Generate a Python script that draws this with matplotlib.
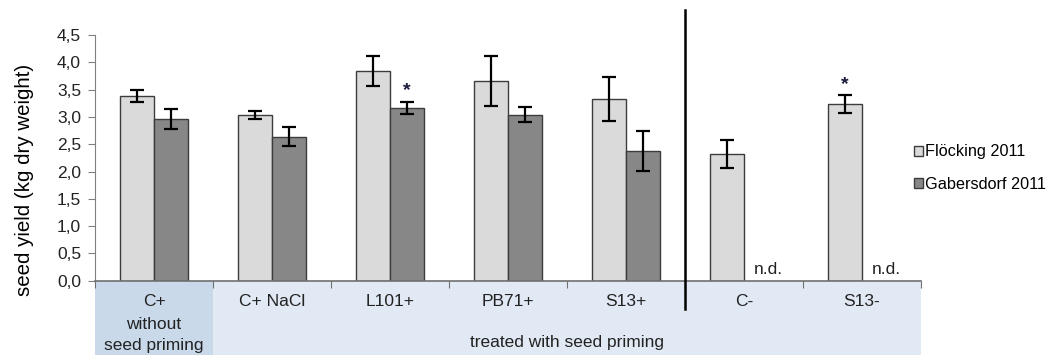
import matplotlib
matplotlib.use("Agg")
import matplotlib.pyplot as plt
import matplotlib.transforms as mtransforms
from matplotlib.patches import Rectangle, Patch
from matplotlib.ticker import FuncFormatter
import numpy as np

plt.rcParams['font.family'] = ['Liberation Sans', 'DejaVu Sans']

categories = ["C+", "C+ NaCl", "L101+", "PB71+", "S13+", "C-", "S13-"]
flocking = [3.38, 3.04, 3.84, 3.66, 3.33, 2.32, 3.24]
flocking_err = [0.11, 0.07, 0.27, 0.46, 0.40, 0.25, 0.16]
gabersdorf = [2.96, 2.64, 3.16, 3.04, 2.38, None, None]
gabersdorf_err = [0.19, 0.17, 0.11, 0.14, 0.37, None, None]
series_labels = ["Flöcking 2011", "Gabersdorf 2011"]
flocking_sig = [False, False, False, False, False, False, True]
gabersdorf_sig = [False, False, True, False, False, False, False]

light = "#dadada"
dark = "#878787"
edge = "#3c3c3c"
text_color = "#222222"

fig = plt.figure(figsize=(10.54, 3.55), dpi=100)
ax = fig.add_axes([95 / 1054, 1 - 280.7 / 355, (921 - 95) / 1054, (280.7 - 35) / 355])

x = np.arange(len(categories))
w = 0.288

for i in range(len(categories)):
    xl = x[i] - w / 2
    ax.bar(xl, flocking[i], width=w, color=light, edgecolor=edge, linewidth=1.0, zorder=2)
    ax.errorbar(xl, flocking[i], yerr=flocking_err[i], fmt="none", ecolor="black",
                elinewidth=1.6, capsize=5, capthick=1.6, zorder=3)
    if flocking_sig[i]:
        ax.text(xl, flocking[i] + flocking_err[i] + 0.03, "*", ha="center", va="bottom",
                fontsize=14, fontweight="bold", color="#1a1a3a")
    xd = x[i] + w / 2
    if gabersdorf[i] is not None:
        ax.bar(xd, gabersdorf[i], width=w, color=dark, edgecolor=edge, linewidth=1.0, zorder=2)
        ax.errorbar(xd, gabersdorf[i], yerr=gabersdorf_err[i], fmt="none", ecolor="black",
                    elinewidth=1.6, capsize=5, capthick=1.6, zorder=3)
        if gabersdorf_sig[i]:
            ax.text(xd, gabersdorf[i] + gabersdorf_err[i] + 0.05, "*", ha="center", va="bottom",
                    fontsize=14, fontweight="bold", color="#1a1a3a")
    else:
        ax.text(xd + 0.06, 0.06, "n.d.", ha="center", va="bottom", fontsize=12.5, color=text_color)

ax.set_xlim(-0.5, len(categories) - 0.5)
ax.set_ylim(0, 4.5)
ax.set_yticks(np.arange(0, 4.51, 0.5))
ax.yaxis.set_major_formatter(FuncFormatter(lambda v, p: f"{v:.1f}".replace(".", ",")))
ax.tick_params(axis="y", labelsize=12.5, length=5, color="#808080", pad=5, labelcolor=text_color)
ax.set_xticks(np.arange(-0.5, len(categories) + 0.5, 1))
ax.set_xticklabels([])
ax.tick_params(axis="x", length=5, color="#707070", direction="out")
for s in ["top", "right"]:
    ax.spines[s].set_visible(False)
ax.spines["left"].set_color("#808080")
ax.spines["bottom"].set_color("#707070")
ax.spines["bottom"].set_linewidth(1.2)
ax.spines["bottom"].set_zorder(5)

ax.set_ylabel("seed yield (kg dry weight)", fontsize=14.8, color="black")
ax.yaxis.set_label_coords(-0.074, 0.41)

trans = mtransforms.blended_transform_factory(ax.transData, ax.transAxes)
# category band below the axis
ax.add_patch(Rectangle((-0.5, -0.31), len(categories), 0.31, transform=trans,
                       facecolor="#e1e9f4", edgecolor="none", clip_on=False, zorder=0))
ax.add_patch(Rectangle((-0.5, -0.31), 1.0, 0.31, transform=trans,
                       facecolor="#c9d9ea", edgecolor="none", clip_on=False, zorder=0))

fs = 12.5
ax.text(x[0], -0.083, "C+", transform=trans, ha="center", va="center", fontsize=fs, color=text_color)
ax.text(x[0], -0.178, "without", transform=trans, ha="center", va="center", fontsize=fs, color=text_color)
ax.text(x[0], -0.262, "seed priming", transform=trans, ha="center", va="center", fontsize=fs, color=text_color)
for i in range(1, len(categories)):
    ax.text(x[i], -0.083, categories[i], transform=trans, ha="center", va="center",
            fontsize=fs, color=text_color)
ax.text((0.5 + len(categories) - 0.5) / 2, -0.25, "treated with seed priming", transform=trans,
        ha="center", va="center", fontsize=fs, color=text_color)

# separator between primed treatments and negative controls
ax.plot([4.5, 4.5], [-0.117, 1.10], transform=trans, color="black", linewidth=1.8,
        clip_on=False, zorder=6)

handles = [Patch(facecolor=light, edgecolor=edge, linewidth=1.0),
           Patch(facecolor=dark, edgecolor=edge, linewidth=1.0)]
fig.legend(handles, series_labels, loc="center left", bbox_to_anchor=(899 / 1054, 1 - 168 / 355),
           frameon=False, fontsize=11.7, handlelength=0.55, handleheight=0.55,
           handletextpad=0.15, labelspacing=1.05)

fig.savefig("out.png", dpi=100)
